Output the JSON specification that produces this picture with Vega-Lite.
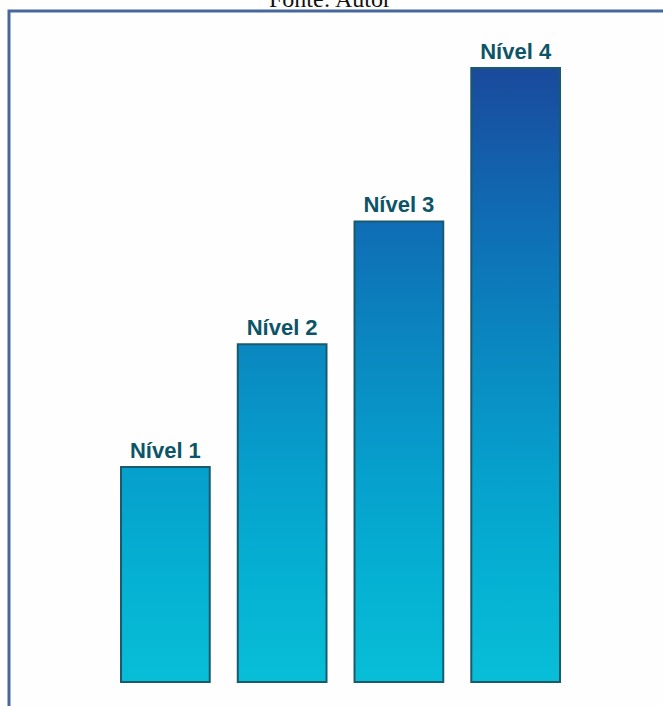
{
  "$schema": "https://vega.github.io/schema/vega-lite/v6.json",
  "autosize": {"type": "none"},
  "padding": {"left": 9, "top": 11, "right": 0, "bottom": 0},
  "width": 654,
  "height": 695,
  "background": "#ffffff",
  "config": {"view": {"stroke": "#46689a", "strokeWidth": 3, "fill": "#fefefe", "strokeCap": "butt", "strokeDash": [654, 1349, 700]}},
  "title": {
    "text": "Fonte: Autor",
    "font": "Liberation Serif",
    "fontSize": 24,
    "fontWeight": "normal",
    "color": "#111111",
    "anchor": "middle",
    "frame": "group",
    "baseline": "alphabetic",
    "offset": 0,
    "dy": 20,
    "dx": -6
  },
  "data": {
    "values": [
      {"nivel": "Nível 1", "valor": 35},
      {"nivel": "Nível 2", "valor": 55},
      {"nivel": "Nível 3", "valor": 75},
      {"nivel": "Nível 4", "valor": 100}
    ]
  },
  "encoding": {
    "x": {
      "field": "nivel",
      "type": "nominal",
      "sort": null,
      "scale": {"paddingInner": 0.24, "paddingOuter": 0.9207, "align": 0.521},
      "axis": null
    },
    "y": {
      "field": "valor",
      "type": "quantitative",
      "scale": {"domain": [-3.909, 109.28], "nice": false, "zero": false},
      "axis": null
    }
  },
  "layer": [
    {
      "mark": {"type": "bar", "stroke": "#1b5a6c", "strokeWidth": 2},
      "encoding": {
        "fill": {
          "condition": [
            {
              "test": "datum.nivel === 'Nível 1'",
              "value": {
                "gradient": "linear", "x1": 0, "y1": 0, "x2": 0, "y2": 1,
                "stops": [
                  {"offset": 0, "color": "#069fcc"},
                  {"offset": 0.489, "color": "#05b0d2"},
                  {"offset": 1, "color": "#08bed7"}
                ]
              }
            },
            {
              "test": "datum.nivel === 'Nível 2'",
              "value": {
                "gradient": "linear", "x1": 0, "y1": 0, "x2": 0, "y2": 1,
                "stops": [
                  {"offset": 0, "color": "#0a87c0"},
                  {"offset": 0.364, "color": "#069fcc"},
                  {"offset": 0.673, "color": "#05b0d2"},
                  {"offset": 1, "color": "#08bed7"}
                ]
              }
            },
            {
              "test": "datum.nivel === 'Nível 3'",
              "value": {
                "gradient": "linear", "x1": 0, "y1": 0, "x2": 0, "y2": 1,
                "stops": [
                  {"offset": 0, "color": "#0f6db5"},
                  {"offset": 0.269, "color": "#0a87c0"},
                  {"offset": 0.535, "color": "#069fcc"},
                  {"offset": 0.761, "color": "#05b0d2"},
                  {"offset": 1, "color": "#08bed7"}
                ]
              }
            }
          ],
          "value": {
            "gradient": "linear", "x1": 0, "y1": 0, "x2": 0, "y2": 1,
            "stops": [
              {"offset": 0, "color": "#1a4a9c"},
              {"offset": 0.25, "color": "#0f6db5"},
              {"offset": 0.45, "color": "#0a87c0"},
              {"offset": 0.65, "color": "#069fcc"},
              {"offset": 0.82, "color": "#05b0d2"},
              {"offset": 1, "color": "#08bed7"}
            ]
          }
        }
      }
    },
    {
      "mark": {
        "type": "text",
        "font": "Liberation Sans",
        "fontWeight": "bold",
        "fontSize": 22,
        "color": "#0c5467",
        "baseline": "alphabetic",
        "align": "center",
        "dy": -9
      },
      "encoding": {
        "text": {"field": "nivel", "type": "nominal"}
      }
    }
  ]
}
